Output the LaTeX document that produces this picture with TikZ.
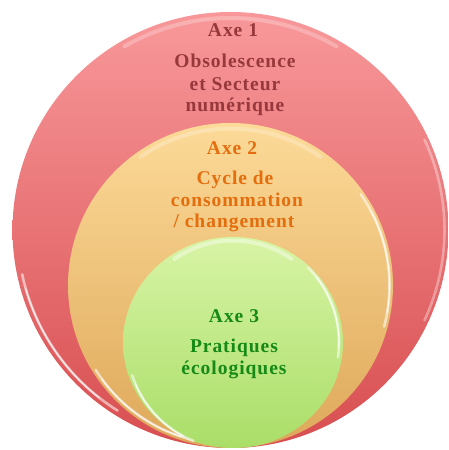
\documentclass[tikz,border=0pt]{standalone}
\usepackage{fontspec}
\setmainfont[LetterSpace=5]{Liberation Serif}
\usetikzlibrary{shapes.geometric}
\definecolor{redtop}{RGB}{248,152,154}
\definecolor{redbot}{RGB}{216,78,80}
\definecolor{orgtop}{RGB}{252,218,152}
\definecolor{orgbot}{RGB}{222,168,90}
\definecolor{grntop}{RGB}{216,244,166}
\definecolor{grnbot}{RGB}{170,222,104}
\definecolor{redtxt}{RGB}{150,56,60}
\definecolor{orgtxt}{RGB}{228,110,14}
\definecolor{grntxt}{RGB}{22,138,22}
\tikzset{
  disc/.style={circle, inner sep=0pt, draw=none},
  oval/.style={ellipse, inner sep=0pt, draw=none},
  lbl/.style={anchor=base, inner sep=0pt, font=\fontsize{19.5}{22}\selectfont\bfseries},
  rim/.style={white, line width=2.6pt, opacity=0.55, line cap=round},
  rimcore/.style={white, line width=1pt, opacity=0.8, line cap=round},
  topgloss/.style={white, line width=4pt, opacity=0.25, line cap=round}
}
\begin{document}
\begin{tikzpicture}[x=1pt,y=1pt]
\useasboundingbox (0,0) rectangle (449,450);
% outer disc
\node[disc, minimum size=436pt, top color=redtop, bottom color=redbot] (c1) at (230.5,220) {};
\draw[rim, shift={(c1.center)}] (192:213) arc[start angle=192, end angle=238, radius=213];
\draw[rimcore, shift={(c1.center)}] (196:213) arc[start angle=196, end angle=232, radius=213];
\draw[rim, opacity=0.35, shift={(c1.center)}] (-25:214) arc[start angle=-25, end angle=25, radius=214];
\draw[topgloss, shift={(c1.center)}] (60:212) arc[start angle=60, end angle=120, radius=212];
% middle disc
\node[disc, minimum size=325pt, top color=orgtop, bottom color=orgbot] (c2) at (230.5,164.5) {};
\draw[rim, shift={(c2.center)}] (212:159) arc[start angle=212, end angle=258, radius=159];
\draw[rimcore, shift={(c2.center)}] (216:159) arc[start angle=216, end angle=252, radius=159];
\draw[rim, shift={(c2.center)}] (-15:159) arc[start angle=-15, end angle=35, radius=159];
\draw[rimcore, shift={(c2.center)}] (-10:159) arc[start angle=-10, end angle=28, radius=159];
\draw[topgloss, shift={(c2.center)}] (55:157) arc[start angle=55, end angle=125, radius=157];
% inner disc
\node[oval, minimum width=220pt, minimum height=211pt, top color=grntop, bottom color=grnbot] (c3) at (233,107.5) {};
\draw[rim, shift={(c3.center)}] (198:106) arc[start angle=198, end angle=248, radius=106];
\draw[rimcore, shift={(c3.center)}] (203:106) arc[start angle=203, end angle=242, radius=106];
\draw[rim, shift={(c3.center)}] (-8:106) arc[start angle=-8, end angle=45, radius=106];
\draw[rimcore, shift={(c3.center)}] (-3:106) arc[start angle=-3, end angle=38, radius=106];
\draw[topgloss, opacity=0.4, shift={(c3.center)}] (55:102) arc[start angle=55, end angle=125, radius=102];
% texts axe 1
\node[lbl, text=redtxt] (a1) at (233,413) {Axe 1};
\node[lbl, text=redtxt] (t1a) at (235,382) {Obsolescence};
\node[lbl, text=redtxt] (t1b) at (235,359) {et Secteur};
\node[lbl, text=redtxt] (t1c) at (235,338) {numérique};
% texts axe 2
\node[lbl, text=orgtxt] (a2) at (232,295) {Axe 2};
\node[lbl, text=orgtxt] (t2a) at (235,265) {Cycle de};
\node[lbl, text=orgtxt] (t2b) at (237,243) {consommation};
\node[lbl, text=orgtxt] (t2c) at (234,222) {/ changement};
% texts axe 3
\node[lbl, text=grntxt] (a3) at (234,127) {Axe 3};
\node[lbl, text=grntxt] (t3a) at (234,97) {Pratiques};
\node[lbl, text=grntxt] (t3b) at (234,75) {écologiques};
\end{tikzpicture}
\end{document}
